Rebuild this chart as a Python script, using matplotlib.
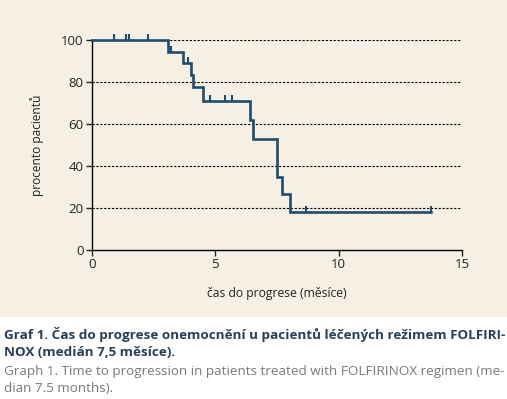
import matplotlib.pyplot as plt
from matplotlib.patches import Rectangle

step_times = [0, 3.1, 3.68, 4.0, 4.1, 4.5, 6.4, 6.52, 7.5, 7.7, 8.03, 13.75]
step_levels = [100, 94.5, 89, 83.5, 77.5, 71, 62, 53, 35, 26.5, 18, 18]
censor_times = [0.89, 1.36, 1.5, 2.27, 3.19, 3.9, 4.78, 5.39, 5.67, 8.67, 13.75]
censor_levels = [100, 100, 100, 100, 94.5, 89, 71, 71, 71, 18, 18]
x_ticks = [0, 5, 10, 15]
y_ticks = [0, 20, 40, 60, 80, 100]

beige = '#f6efe3'
line_col = '#1d4d6e'
plt.rcParams['font.family'] = ['Open Sans', 'DejaVu Sans']

fig = plt.figure(figsize=(5.07, 3.99), dpi=100)
fig.patch.set_facecolor('white')
fig.patches.append(Rectangle((0, 1 - 317 / 399), 1, 317 / 399, transform=fig.transFigure,
                             facecolor=beige, edgecolor='none', zorder=-10))

ax = fig.add_axes([92 / 507, 1 - 250 / 399, 370 / 507, 210 / 399])
ax.set_facecolor('none')
ax.set_xlim(0, 15)
ax.set_ylim(0, 100)

for y in y_ticks[1:]:
    ax.axhline(y, color='black', lw=0.8, ls=(0, (2, 1.5)), zorder=1)

ax.step(step_times, step_levels, where='post', color=line_col, lw=1.9, clip_on=False,
        zorder=3, solid_joinstyle='miter')
ax.plot(censor_times, censor_levels, ls='none', marker=2, ms=4.5, mew=1.5,
        color=line_col, clip_on=False, zorder=3)

for s in ['top', 'right']:
    ax.spines[s].set_visible(False)
for s in ['left', 'bottom']:
    ax.spines[s].set_linewidth(1.0)
ax.set_xticks(x_ticks)
ax.set_yticks(y_ticks)
ax.tick_params(direction='out', length=4, width=1, labelsize=9.5, colors='#222222', pad=2)

fig.text(37 / 507, 1 - 145 / 399, 'procento pacientů', rotation=90, ha='center', va='center',
         fontsize=8.6, color='#222222')
fig.text(277 / 507, 1 - 293 / 399, 'čas do progrese (měsíce)', ha='center', va='center',
         fontsize=8.7, color='#222222')

cap_bold = '#23405c'
fig.text(4 / 507, 1 - 335 / 399, 'Graf 1. Čas do progrese onemocnění u pacientů léčených režimem FOLFIRI-',
         fontsize=9.7, fontweight='bold', color=cap_bold, va='center')
fig.text(4 / 507, 1 - 353 / 399, 'NOX (medián 7,5 měsíce).',
         fontsize=9.7, fontweight='bold', color=cap_bold, va='center')
fig.text(4 / 507, 1 - 371 / 399, 'Graph 1. Time to progression in patients treated with FOLFIRINOX regimen (me-',
         fontsize=9.7, color='#7a7a7a', va='center')
fig.text(4 / 507, 1 - 388 / 399, 'dian 7.5 months).',
         fontsize=9.7, color='#7a7a7a', va='center')

fig.savefig('out.png', dpi=100, facecolor=fig.get_facecolor())
